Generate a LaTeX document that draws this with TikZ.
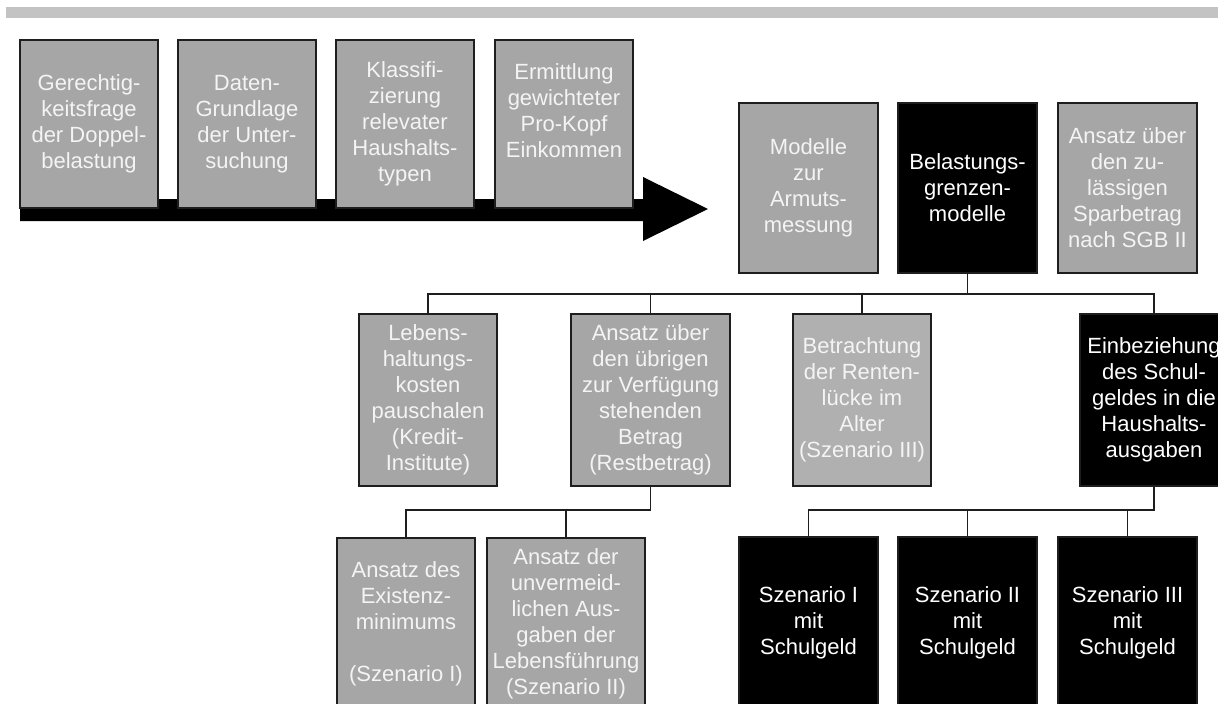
\documentclass[tikz,border=0pt]{standalone}
\usepackage{fontspec}
\setmainfont{Liberation Sans}
\definecolor{boxgray}{HTML}{A6A6A6}
\definecolor{lightboxgray}{HTML}{B0B0B0}
\definecolor{bargray}{HTML}{C3C3C3}
\definecolor{txtw}{HTML}{F4F4F4}
\definecolor{linecol}{HTML}{1E1E1E}
\tikzset{
  gbox/.style={draw=linecol, line width=1.3pt, fill=boxgray, text=txtw, align=center,
    inner sep=0pt, font=\fontsize{22}{26}\selectfont},
  bbox/.style={gbox, fill=black, text=white},
  conn/.style={draw=linecol, line width=1.3pt},
  w138/.style={minimum width=138pt},
  w139/.style={minimum width=139pt},
}
\begin{document}
\begin{tikzpicture}[x=1pt,y=-1pt]
\useasboundingbox (0,0) rectangle (1218,704);
\clip (0,0) rectangle (1218,704);
\fill[white] (0,0) rectangle (1218,704);
% top bar
\fill[bargray] (6,7) rectangle (1218,18);
% arrow
\fill[black] (20,199) -- (643,199) -- (643,177) -- (708,209) -- (643,241) -- (643,221) -- (20,221) -- cycle;
% top-left row
\node[gbox, w138, minimum height=168pt] (t1) at (89,124) {Gerechtig-\\keitsfrage\\der Doppel-\\belastung};
\node[gbox, w138, minimum height=168pt] (t2) at (247,124) {Daten-\\Grundlage\\der Unter-\\suchung};
\node[gbox, w138, minimum height=168pt] (t3) at (405,124) {Klassifi-\\zierung\\relevater\\Haushalts-\\typen};
\node[gbox, w138, minimum height=168pt] (t4) at (564,124) {Ermittlung\\gewichteter\\Pro-Kopf\\Einkommen\\\mbox{}};
% top-right row
\node[gbox, w139, minimum height=170pt] (arm) at (808.5,188) {Modelle\\zur\\Armuts-\\messung};
\node[bbox, w139, minimum height=170pt] (bel) at (967.5,188) {Belastungs-\\grenzen-\\modelle};
\node[gbox, w139, minimum height=170pt] (spa) at (1127.5,188) {Ansatz über\\den zu-\\lässigen\\Sparbetrag\\nach SGB II};
% second row
\node[gbox, w138, minimum height=172pt] (leb) at (428,400) {Lebens-\\haltungs-\\kosten\\pauschalen\\(Kredit-\\Institute)};
\node[gbox, minimum width=159pt, minimum height=172pt] (rest) at (650.5,400) {Ansatz über\\den übrigen\\zur Verfügung\\stehenden\\Betrag\\(Restbetrag)};
\node[gbox, fill=lightboxgray, w138, minimum height=172pt] (ren) at (862,400) {Betrachtung\\der Renten-\\lücke im\\Alter\\(Szenario III)};
\node[bbox, minimum width=148pt, minimum height=172pt] (ein) at (1154,400) {Einbeziehung\\des Schul-\\geldes in die\\Haushalts-\\ausgaben};
% third row
\node[gbox, w138, minimum height=172pt] (exi) at (406,624) {Ansatz des\\Existenz-\\minimums\\\mbox{}\\(Szenario I)};
\node[gbox, minimum width=158pt, minimum height=172pt] (lf) at (566,624) {Ansatz der\\unvermeid-\\lichen Aus-\\gaben der\\Lebensführung\\(Szenario II)};
\node[bbox, w139, minimum height=172pt] (s1) at (808.5,623) {Szenario I\\mit\\Schulgeld};
\node[bbox, w139, minimum height=172pt] (s2) at (967.5,623) {Szenario II\\mit\\Schulgeld};
\node[bbox, w139, minimum height=172pt] (s3) at (1127.5,623) {Szenario III\\mit\\Schulgeld};
% connectors
\coordinate (busA) at (0,294);
\coordinate (busB) at (0,510);
\draw[conn] (bel.south) -- (bel.south |- busA);
\draw[conn] (leb.north) |- (bel.south |- busA) -| (ein.north);
\draw[conn] (rest.north) -- (rest.north |- busA);
\draw[conn] (ren.north) -- (ren.north |- busA);
\draw[conn] (rest.south) |- (exi.north |- busB) -- (exi.north);
\draw[conn] (lf.north) -- (lf.north |- busB);
\draw[conn] (ein.south) |- (s1.north |- busB) -- (s1.north);
\draw[conn] (s2.north) -- (s2.north |- busB);
\draw[conn] (s3.north) -- (s3.north |- busB);
\end{tikzpicture}
\end{document}
